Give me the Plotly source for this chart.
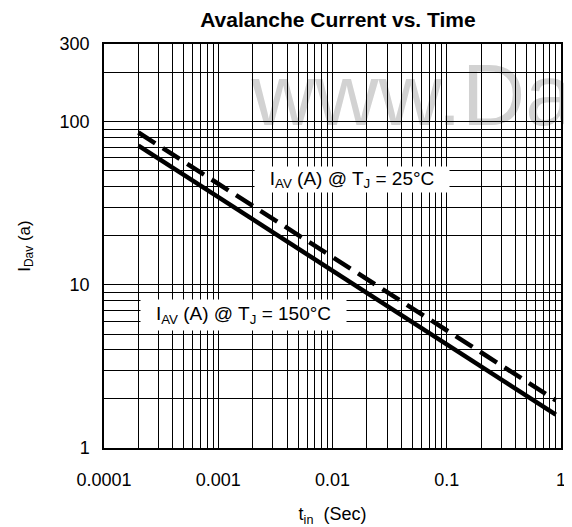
import plotly.graph_objects as go

# ---- data ----
t_sec = [0.0002, 0.9]
iav_25c = [86, 1.96]
iav_150c = [71.5, 1.6]

x_tickvals = [1e-4, 2e-4, 3e-4, 4e-4, 5e-4, 6e-4, 7e-4, 8e-4, 9e-4,
              1e-3, 2e-3, 3e-3, 4e-3, 5e-3, 6e-3, 7e-3, 8e-3, 9e-3,
              1e-2, 2e-2, 3e-2, 4e-2, 5e-2, 6e-2, 7e-2, 8e-2, 9e-2,
              0.1, 0.2, 0.3, 0.4, 0.5, 0.6, 0.7, 0.8, 0.9, 1]
x_labels = {1e-4: "0.0001", 1e-3: "0.001", 1e-2: "0.01", 0.1: "0.1", 1: "1"}
y_tickvals = [1, 2, 3, 4, 5, 6, 7, 8, 9, 10, 20, 30, 40, 50, 60, 70, 80, 90,
              100, 200, 300]
y_labels = {1: "1", 10: "10", 100: "100", 300: "300"}

x_ticktext = [x_labels.get(v, "") for v in x_tickvals]
y_ticktext = [y_labels.get(v, "") for v in y_tickvals]

FONT = "Liberation Sans, Arial, sans-serif"

fig = go.Figure()
fig.add_trace(go.Scatter(x=t_sec, y=iav_25c, mode="lines",
                         line=dict(color="black", width=4.5, dash="20px,9px"),
                         showlegend=False))
fig.add_trace(go.Scatter(x=t_sec, y=iav_150c, mode="lines",
                         line=dict(color="black", width=4.5),
                         showlegend=False))

# page adds an 8px body margin, so the figure is 8px smaller than the window
fig.update_layout(
    width=564, height=519,
    margin=dict(l=96, r=6, t=36, b=74),
    paper_bgcolor="white", plot_bgcolor="rgba(0,0,0,0)",
    font=dict(family=FONT, size=18, color="black"),
    title=dict(text="<b>Avalanche Current vs. Time</b>", x=0.585, xanchor="center",
               y=0.978, yanchor="middle", font=dict(size=21, family=FONT)),
)
fig.update_xaxes(type="log", range=[-4, 0], tickvals=x_tickvals, ticktext=x_ticktext,
                 showgrid=True, gridcolor="black", gridwidth=1,
                 showline=True, linecolor="black", linewidth=1.5, mirror=True,
                 ticks="", ticklabelstandoff=15, tickangle=0,
                 title=dict(text="t<sub>in</sub>  (Sec)", standoff=18, font=dict(size=18)),
                 zeroline=False)
fig.update_yaxes(type="log", range=[0, 2.4771], tickvals=y_tickvals, ticktext=y_ticktext,
                 showgrid=True, gridcolor="black", gridwidth=1,
                 showline=True, linecolor="black", linewidth=1.5, mirror=True,
                 ticks="", ticklabelstandoff=9,
                 title=dict(text="I<sub>Dav</sub> (a)", standoff=25, font=dict(size=17)),
                 zeroline=False)

# watermark below gridlines
fig.add_shape(type="rect", xref="paper", yref="paper", x0=0.316, x1=1.6, y0=0.82, y1=0.97,
              layer="below", line=dict(width=0), fillcolor="rgba(0,0,0,0)",
              label=dict(text="www.Datasheet4U.com", textposition="middle left", padding=0,
                         font=dict(size=88, color="#d2d2d2", family=FONT)))

fig.add_annotation(xref="paper", yref="paper", x=0.543, y=0.665,
                   text="I<sub>AV</sub> (A) @ T<sub>J</sub> = 25°C", showarrow=False,
                   bgcolor="white", width=194, height=25, borderpad=0,
                   font=dict(size=19), xanchor="center", yanchor="middle")
fig.add_annotation(xref="paper", yref="paper", x=0.306, y=0.33,
                   text="I<sub>AV</sub> (A) @ T<sub>J</sub> = 150°C", showarrow=False,
                   bgcolor="white", width=205, height=30, borderpad=0,
                   font=dict(size=19), xanchor="center", yanchor="middle")

fig.write_html("out.html")
